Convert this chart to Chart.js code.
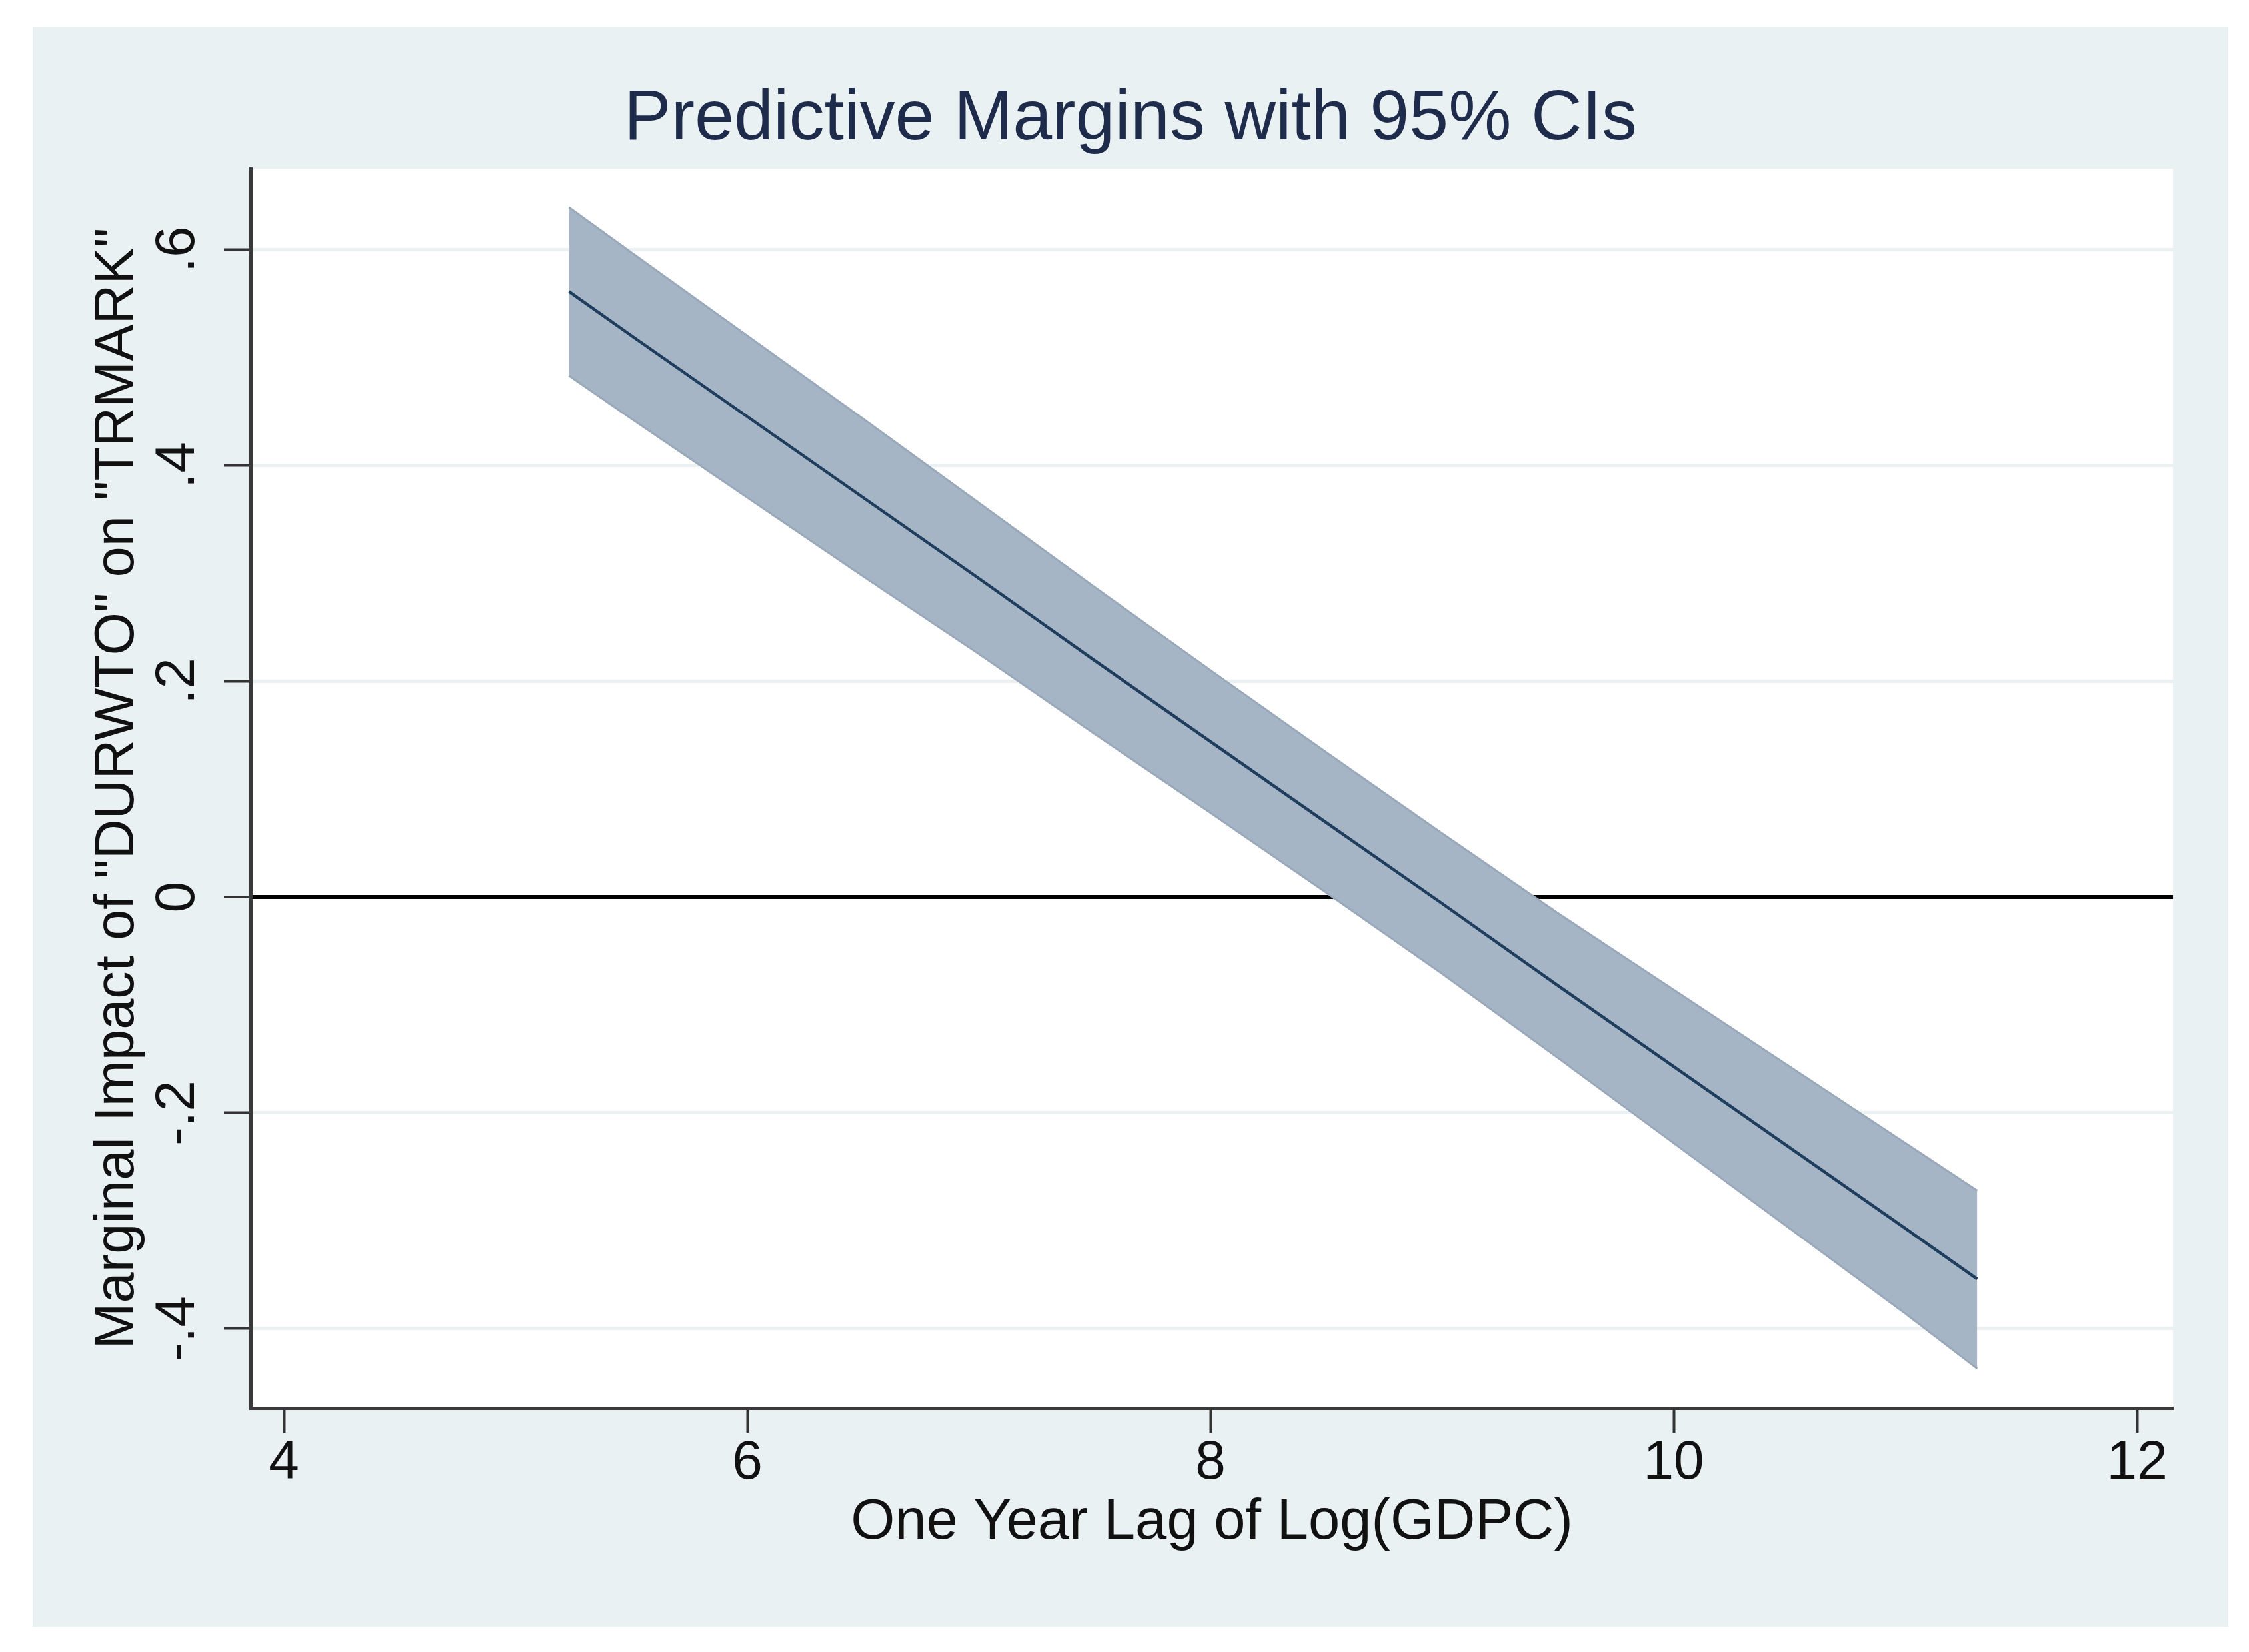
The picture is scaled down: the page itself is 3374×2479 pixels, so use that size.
<!DOCTYPE html>
<html lang="en">
<head>
  <meta charset="UTF-8">
  <title>Predictive Margins with 95% CIs</title>
  <script src="https://cdn.jsdelivr.net/npm/chart.js"></script>
  <style>
    html, body { margin: 0; padding: 0; background: #ffffff; }
    #wrap { width: 3374px; height: 2479px; position: relative; }
  </style>
</head>
<body>
  <div id="wrap">
    <canvas id="chart"></canvas>
  </div>

  <script>
    // values
    const gdpcLag = [5.23, 5.5, 6.0, 6.5, 7.0, 7.5, 8.0, 8.5, 9.0, 9.5, 10.0, 10.5, 11.0, 11.31];
    const margin  = [0.561, 0.520, 0.445, 0.370, 0.295, 0.219, 0.144, 0.069, -0.006, -0.082, -0.157, -0.232, -0.307, -0.354];
    const ciUpper = [0.639, 0.597, 0.520, 0.443, 0.365, 0.287, 0.210, 0.134, 0.059, -0.015, -0.086, -0.157, -0.228, -0.272];
    const ciLower = [0.483, 0.443, 0.370, 0.297, 0.225, 0.151, 0.078, 0.004, -0.071, -0.149, -0.228, -0.307, -0.386, -0.437];

    const xTicks = [4, 6, 8, 10, 12];
    const yTicks = [-0.4, -0.2, 0, 0.2, 0.4, 0.6];
    const yTickLabels = ["-.4", "-.2", "0", ".2", ".4", ".6"];

    const FONT = "'Liberation Sans', Arial, Helvetica, sans-serif";
    const PANEL = { left: 49, top: 40, right: 3343, bottom: 2441 };

    const pts = ys => gdpcLag.map((x, i) => ({ x: x, y: ys[i] }));

    // stata style backgrounds: light outer panel, white plot region
    const backgrounds = {
      id: 'backgrounds',
      beforeDraw(chart) {
        const ctx = chart.ctx;
        const a = chart.chartArea;
        ctx.save();
        ctx.fillStyle = '#ffffff';
        ctx.fillRect(0, 0, chart.width, chart.height);
        ctx.fillStyle = '#e9f1f3';
        ctx.fillRect(PANEL.left, PANEL.top, PANEL.right - PANEL.left, PANEL.bottom - PANEL.top);
        ctx.fillStyle = '#ffffff';
        ctx.fillRect(a.left, a.top, a.right - a.left, a.bottom - a.top);
        ctx.restore();
      }
    };

    const chart = new Chart(document.getElementById('chart'), {
      type: 'line',
      data: {
        datasets: [
          {
            label: 'Margin',
            data: pts(margin),
            borderColor: '#1f3d5c',
            borderWidth: 4.5,
            pointRadius: 0,
            fill: false
          },
          {
            label: 'Lower 95% CI',
            data: pts(ciLower),
            borderColor: '#99a9ba',
            borderWidth: 3,
            pointRadius: 0,
            fill: false
          },
          {
            label: 'Upper 95% CI',
            data: pts(ciUpper),
            borderColor: '#99a9ba',
            borderWidth: 3,
            pointRadius: 0,
            backgroundColor: '#a5b5c6',
            fill: '-1'
          }
        ]
      },
      options: {
        responsive: true,
        maintainAspectRatio: false,
        animation: false,
        layout: { padding: { left: PANEL.left, right: 3374 - PANEL.right, top: 0, bottom: 0 } },
        plugins: {
          legend: { display: false },
          tooltip: { enabled: false },
          title: {
            display: true,
            text: 'Predictive Margins with 95% CIs',
            color: '#1e2b4b',
            font: { family: FONT, size: 106, weight: 'normal', lineHeight: 1.2 },
            padding: { top: 116, bottom: 10 }
          }
        },
        scales: {
          x: {
            type: 'linear',
            position: 'bottom',
            min: 3.856,
            max: 12.155,
            afterBuildTicks: s => { s.ticks = xTicks.map(v => ({ value: v })); },
            afterFit: s => { s.height = 366; },
            grid: {
              drawOnChartArea: false,
              drawTicks: true,
              tickLength: 37,
              tickWidth: 4,
              tickColor: '#333333'
            },
            border: { display: true, color: '#3a3a3a', width: 5 },
            ticks: {
              color: '#111111',
              padding: 5,
              font: { family: FONT, size: 82, lineHeight: 1.0 },
              maxRotation: 0,
              minRotation: 0
            },
            title: {
              display: true,
              text: 'One Year Lag of Log(GDPC)',
              color: '#111111',
              font: { family: FONT, size: 85, lineHeight: 1.2 },
              padding: { top: 0, bottom: 142 }
            }
          },
          y: {
            type: 'linear',
            position: 'left',
            min: -0.4735,
            max: 0.6747,
            afterBuildTicks: s => { s.ticks = yTicks.map(v => ({ value: v })); },
            afterFit: s => { s.width = 376 - PANEL.left; },
            grid: {
              color: c => (c.tick && c.tick.value === 0 ? '#000000' : '#ebf1f3'),
              lineWidth: c => (c.tick && c.tick.value === 0 ? 6 : 5),
              tickColor: '#333333',
              tickWidth: 4,
              tickLength: 40
            },
            border: { display: true, color: '#3a3a3a', width: 5 },
            ticks: {
              color: '#111111',
              padding: 19,
              crossAlign: 'center',
              minRotation: 90,
              maxRotation: 90,
              font: { family: FONT, size: 84, lineHeight: 1.0 },
              callback: v => {
                const i = yTicks.findIndex(t => Math.abs(t - v) < 1e-9);
                return i >= 0 ? yTickLabels[i] : '';
              }
            },
            title: {
              display: true,
              text: 'Marginal Impact of "DURWTO" on "TRMARK"',
              color: '#111111',
              font: { family: FONT, size: 83, lineHeight: 1.2 },
              padding: { top: 78, bottom: 0 }
            }
          },
          // empty right gutter so the plot ends before the panel edge
          gutter: {
            type: 'linear',
            position: 'right',
            display: true,
            afterFit: s => { s.width = PANEL.right - 3260; },
            grid: { display: false, drawTicks: false },
            border: { display: false },
            ticks: { display: false }
          }
        }
      },
      plugins: [backgrounds]
    });
  </script>
</body>
</html>
